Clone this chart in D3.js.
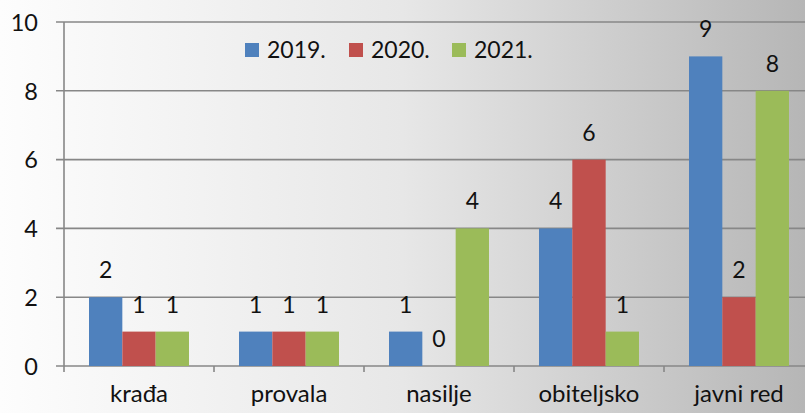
<!DOCTYPE html>
<html><head><meta charset="utf-8">
<script src="https://cdn.jsdelivr.net/npm/d3@7"></script>
<style>html,body{margin:0;padding:0;overflow:hidden;}svg{display:block;}</style>
</head><body>
<script>
const categories = ["krađa", "provala", "nasilje", "obiteljsko", "javni red"];
const seriesNames = ["2019.", "2020.", "2021."];
const values2019 = [2, 1, 1, 4, 9];
const values2020 = [1, 1, 0, 6, 2];
const values2021 = [1, 1, 4, 1, 8];
const yTicks = [0, 2, 4, 6, 8, 10];
const colors = ["#4f81bd", "#c0504d", "#9bbb59"];

const W = 805, H = 413;
const m = {left: 64, right: -9, top: 22, bottom: 47};
const font = "Lato, 'Open Sans', sans-serif";
const svg = d3.select("body").append("svg").attr("width", W).attr("height", H);

const defs = svg.append("defs");
const grad = defs.append("linearGradient").attr("id", "bg").attr("x1", 0).attr("x2", 1).attr("y1", 0).attr("y2", 0);
grad.append("stop").attr("offset", "0").attr("stop-color", "#fdfdfd");
grad.append("stop").attr("offset", "0.5").attr("stop-color", "#e7e7e7");
grad.append("stop").attr("offset", "1").attr("stop-color", "#b6b6b6");
svg.append("rect").attr("width", W).attr("height", H).attr("fill", "url(#bg)");

const x = d3.scaleBand().domain(categories).range([m.left, W - m.right]).paddingInner(0).paddingOuter(0);
const xs = d3.scaleBand().domain(seriesNames).range([0, x.bandwidth()]).paddingInner(0).paddingOuter(0.75);
const y = d3.scaleLinear().domain([0, 10]).range([H - m.bottom, m.top]);

// y tick labels
const gAxis = svg.append("g").attr("transform", `translate(${m.left},0)`)
  .call(d3.axisLeft(y).tickValues(yTicks).tickSize(8).tickPadding(18).tickFormat(d3.format("d")));
gAxis.select(".domain").remove();
gAxis.selectAll(".tick line").remove();
gAxis.selectAll(".tick text").attr("font-family", font).attr("font-size", 23.5).attr("fill", "#111").attr("dy", "0.35em");

// gridlines
svg.append("g").selectAll("line").data(yTicks).join("line")
  .attr("x1", m.left - 8).attr("x2", W - m.right)
  .attr("y1", d => y(d)).attr("y2", d => y(d))
  .attr("stroke", "#878787").attr("stroke-width", 1.6);

// bars
const series = [values2019, values2020, values2021];
const gBars = svg.append("g");
series.forEach((vals, si) => {
  gBars.selectAll(null).data(vals).join("rect")
    .attr("x", (d, i) => x(categories[i]) + xs(seriesNames[si]))
    .attr("width", xs.bandwidth())
    .attr("y", d => y(d))
    .attr("height", d => y(0) - y(d))
    .attr("fill", colors[si]);
  gBars.selectAll(null).data(vals).join("text")
    .attr("x", (d, i) => x(categories[i]) + xs(seriesNames[si]) + xs.bandwidth() / 2)
    .attr("y", d => y(d) - 19)
    .attr("text-anchor", "middle")
    .attr("font-family", font).attr("font-size", 23).attr("fill", "#111")
    .text(d => d);
});

// axes lines
svg.append("line").attr("x1", m.left).attr("x2", m.left).attr("y1", y(10)).attr("y2", y(0) + 6)
  .attr("stroke", "#878787").attr("stroke-width", 1.6);
const gx = svg.append("g").attr("transform", `translate(0,${y(0)})`)
  .call(d3.axisBottom(x).tickSize(0).tickPadding(19));
gx.select(".domain").remove();
gx.selectAll(".tick text").attr("font-family", font).attr("font-size", 24).attr("fill", "#111").attr("dy", "0.71em");
svg.append("g").selectAll("line").data(categories).join("line")
  .attr("x1", d => x(d) + x.bandwidth()).attr("x2", d => x(d) + x.bandwidth())
  .attr("y1", y(0)).attr("y2", y(0) + 6)
  .attr("stroke", "#878787").attr("stroke-width", 1.6);

// legend
const legX = [245, 349, 452];
const leg = svg.append("g");
seriesNames.forEach((s, i) => {
  leg.append("rect").attr("x", legX[i]).attr("y", 43).attr("width", 14).attr("height", 14).attr("fill", colors[i]);
  leg.append("text").attr("x", legX[i] + 22).attr("y", 50).attr("dy", "0.35em")
    .attr("font-family", font).attr("font-size", 23).attr("fill", "#111").text(s);
});
</script>
</body></html>
